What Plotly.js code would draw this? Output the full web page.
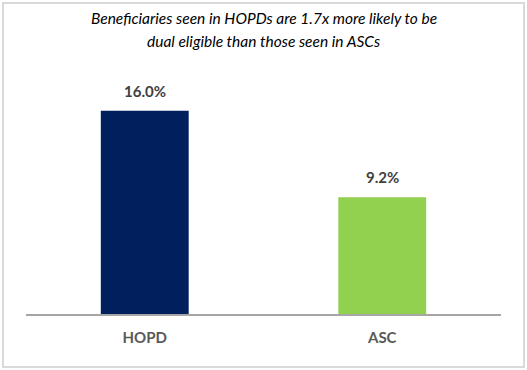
<!DOCTYPE html>
<html>
<head>
<meta charset="utf-8">
<script src="https://cdn.plot.ly/plotly-3.0.1.min.js"></script>
<style>
  html, body { margin: 0; padding: 0; background: #fff; }
  #wrap { position: relative; width: 527px; height: 370px; }
  #chart { position: absolute; left: 0; top: 0; width: 527px; height: 370px; }
  #frame { position: absolute; left: 2px; top: 2px; width: 519px; height: 362px; border: 2px solid #d9d9d9; pointer-events: none; }
</style>
</head>
<body>
<div id="wrap">
  <div id="chart"></div>
  <div id="frame"></div>
</div>
<script>
const categories = ['HOPD', 'ASC'];
const values = [16.0, 9.2];
const labels = ['16.0%', '9.2%'];
const colors = ['#001f5c', '#92d050'];
const titleLines = ['Beneficiaries seen in HOPDs are 1.7x more likely to be', 'dual eligible than those seen in ASCs'];

const trace = {
  type: 'bar',
  x: categories,
  y: values,
  marker: { color: colors },
  width: 0.37,
  hoverinfo: 'none'
};

const annotations = categories.map((c, i) => ({
  x: c, y: values[i], xref: 'x', yref: 'y',
  text: '<b>' + labels[i] + '</b>',
  showarrow: false, yanchor: 'bottom', yshift: 9,
  font: { family: 'Lato, sans-serif', size: 15, color: '#404040' }
}));

// title lines placed in paper coordinates (plot area top at 60px, height 254px)
const plotTop = 60, plotH = 254;
const titleY = [18, 41];
titleLines.forEach((t, i) => {
  annotations.push({
    x: 0.5, xref: 'paper', y: 1 + (plotTop - titleY[i]) / plotH, yref: 'paper',
    text: '<i>' + t + '</i>', showarrow: false, xanchor: 'center', yanchor: 'middle',
    font: { family: 'Lato, sans-serif', size: 15.5, color: '#000' }
  });
});

const layout = {
  width: 527, height: 370,
  margin: { l: 26, r: 26, t: plotTop, b: 56 },
  paper_bgcolor: '#fff', plot_bgcolor: '#fff',
  xaxis: {
    range: [-0.5, 1.5],
    showline: true, linecolor: '#a6a6a6', linewidth: 2,
    ticks: '', showgrid: false, zeroline: false,
    tickfont: { family: 'Lato, sans-serif', size: 15, color: '#595959', weight: 'bold' },
    ticklabelstandoff: 9,
    fixedrange: true
  },
  yaxis: {
    range: [0, 20], visible: false, showgrid: false, zeroline: false, fixedrange: true
  },
  annotations: annotations,
  showlegend: false
};

Plotly.newPlot('chart', [trace], layout, { displayModeBar: false, staticPlot: true });
</script>
</body>
</html>
